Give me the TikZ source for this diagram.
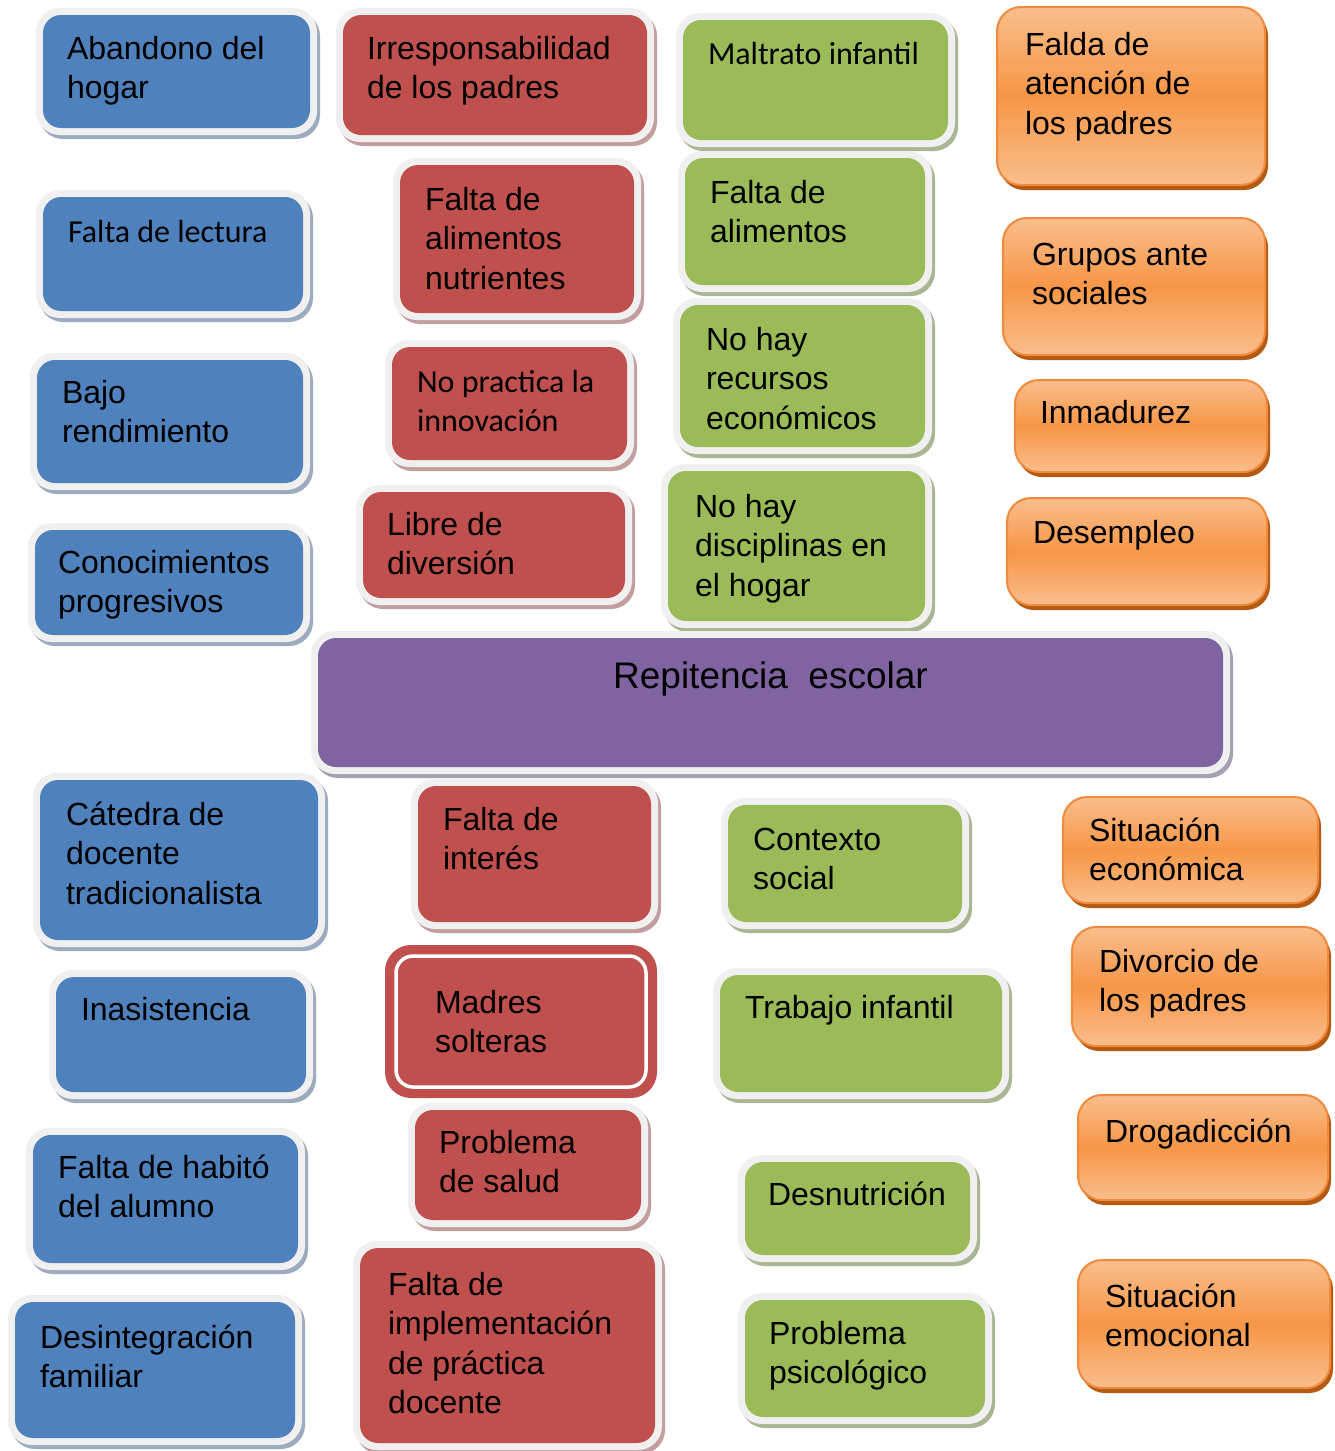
\documentclass[tikz,border=0pt]{standalone}
\usepackage{fontspec}
\setmainfont{Liberation Sans}
\newfontfamily\calib{Carlito}
\newcommand\calfont{\calib\fontsize{32}{39.5}\selectfont}
\definecolor{cblue}{HTML}{4F81BD}
\definecolor{cbluesh}{HTML}{9DABBF}
\definecolor{cred}{HTML}{C0504D}
\definecolor{credsh}{HTML}{C29F9E}
\definecolor{cgreen}{HTML}{9BBB59}
\definecolor{cgreensh}{HTML}{A9B693}
\definecolor{cpurple}{HTML}{8064A2}
\definecolor{cpurplesh}{HTML}{A69EB1}
\definecolor{ringc}{HTML}{F0F0F0}
\definecolor{corange}{HTML}{F79646}
\definecolor{corangelt}{HTML}{F9BE8D}
\definecolor{corangeline}{HTML}{F08A3C}
\definecolor{corangesh}{HTML}{B45A12}
\tikzset{
  boxbase/.style={rectangle, rounded corners=18, inner sep=0, outer sep=0},
  txt/.style={anchor=north west, inner sep=0, outer sep=0, align=left,
    font=\fontsize{32}{39.5}\selectfont},
}
% name, colour, x1, y1, x2, y2, text x, first baseline, text
\newcommand\cbox[9]{%
  \fill[#2sh, rounded corners=24] ({#3-7+3},{#4-7+4}) rectangle ({#5+7+3},{#6+7+4});
  \fill[ringc, rounded corners=24] ({#3-7},{#4-7}) rectangle ({#5+7},{#6+7});
  \node[boxbase, fill=#2, minimum width={#5-#3}, minimum height={#6-#4}] (#1) at ({(#3+#5)/2},{(#4+#6)/2}) {};
  \node[txt] (#1-t) at (#7,{#8-27.65}) {\strut #9};
}
% name, x1, y1, x2, y2, text x, first baseline, text
\newcommand\obox[8]{%
  \fill[corangesh, rounded corners=24] ({#2+3},{#3+5}) rectangle ({#4+3},{#5+5});
  \node[boxbase, rounded corners=24, draw=corangeline, line width=2,
    top color=corangelt, bottom color=corangelt, middle color=corange,
    minimum width={#4-#2}, minimum height={#5-#3}] (#1) at ({(#2+#4)/2},{(#3+#5)/2}) {};
  \node[txt] (#1-t) at (#6,{#7-27.65}) {\strut #8};
}
\begin{document}
\begin{tikzpicture}[x=1pt,y=-1pt]
\useasboundingbox (0,0) rectangle (1334,1451);
\fill[white] (0,0) rectangle (1334,1451);
% blue column
\cbox{abandono}{cblue}{43}{15}{310}{128}{67}{59}{Abandono del\\hogar}
\cbox{lectura}{cblue}{43}{197}{303}{311}{68}{242}{\calfont Falta de lectura}
\cbox{bajo}{cblue}{37}{360}{303}{483}{62}{403}{Bajo\\rendimiento}
\cbox{conoc}{cblue}{35}{530}{303}{635}{58}{573}{Conocimientos\\progresivos}
\cbox{catedra}{cblue}{40}{780}{318}{940}{66}{825}{Cátedra de\\docente\\tradicionalista}
\cbox{inasist}{cblue}{56}{977}{306}{1092}{81}{1020}{Inasistencia}
\cbox{habito}{cblue}{33}{1135}{298}{1263}{58}{1178}{Falta de habitó\\del alumno}
\cbox{desint}{cblue}{15}{1302}{295}{1438}{40}{1348}{Desintegración\\familiar}
% red column
\cbox{irresp}{cred}{343}{15}{647}{135}{367}{59}{Irresponsabilidad\\de los padres}
\cbox{alimnut}{cred}{400}{165}{634}{313}{425}{210}{Falta de\\alimentos\\nutrientes}
\cbox{innov}{cred}{392}{347}{627}{460}{417}{392}{\calfont No practica la\\\calfont innovación}
\cbox{libre}{cred}{363}{492}{625}{598}{387}{535}{Libre de\\diversión}
\cbox{interes}{cred}{418}{786}{651}{922}{443}{830}{Falta de\\interés}
\node[boxbase, rounded corners=26, fill=cred, minimum width=272, minimum height=153] (madres) at (521,1021.5) {};
\draw[white, line width=3.5, rounded corners=17] ([shift={(11,11)}]madres.north west) rectangle ([shift={(-11,-11)}]madres.south east);
\node[txt] (madres-t) at (435,{1013-27.65}) {\strut Madres\\solteras};
\cbox{salud}{cred}{415}{1110}{641}{1220}{439}{1153}{Problema\\de salud}
\cbox{implem}{cred}{360}{1248}{655}{1443}{388}{1295}{Falta de\\implementación\\de práctica\\docente}
% green column
\cbox{maltrato}{cgreen}{683}{20}{948}{140}{708}{64}{\calfont Maltrato infantil}
\cbox{falimentos}{cgreen}{685}{158}{925}{285}{710}{203}{Falta de\\alimentos}
\cbox{recursos}{cgreen}{680}{305}{925}{447}{706}{350}{No hay\\recursos\\económicos}
\cbox{discip}{cgreen}{668}{471}{925}{621}{695}{517}{No hay\\disciplinas en\\el hogar}
\cbox{contexto}{cgreen}{728}{805}{962}{922}{753}{850}{Contexto\\social}
\cbox{trabajo}{cgreen}{720}{975}{1002}{1092}{745}{1018}{Trabajo infantil}
\cbox{desnut}{cgreen}{745}{1162}{970}{1255}{768}{1205}{Desnutrición}
\cbox{psico}{cgreen}{745}{1300}{985}{1417}{769}{1344}{Problema\\psicológico}
% orange column
\obox{falda}{997}{7}{1265}{185}{1025}{55}{Falda de\\atención de\\los padres}
\obox{grupos}{1003}{218}{1265}{355}{1032}{265}{Grupos ante\\sociales}
\obox{inmad}{1015}{380}{1267}{472}{1040}{423}{Inmadurez}
\obox{desemp}{1007}{498}{1267}{605}{1033}{543}{Desempleo}
\obox{sitecon}{1063}{797}{1318}{903}{1089}{841}{Situación\\económica}
\obox{divorcio}{1072}{927}{1328}{1046}{1099}{972}{Divorcio de\\los padres}
\obox{drog}{1078}{1095}{1328}{1200}{1105}{1142}{Drogadicción}
\obox{sitemo}{1078}{1260}{1330}{1388}{1105}{1307}{Situación\\emocional}
% centre
\fill[cpurplesh, rounded corners=24] (314,635) rectangle (1233,778);
\fill[ringc, rounded corners=24] (311,631) rectangle (1230,774);
\node[boxbase, fill=cpurple, minimum width=905, minimum height=129] (rep) at (770.5,702.5) {};
\node[anchor=base, inner sep=0, font=\fontsize{37}{44}\selectfont] (rep-t) at (770.5,688) {Repitencia~ escolar};
\end{tikzpicture}
\end{document}
